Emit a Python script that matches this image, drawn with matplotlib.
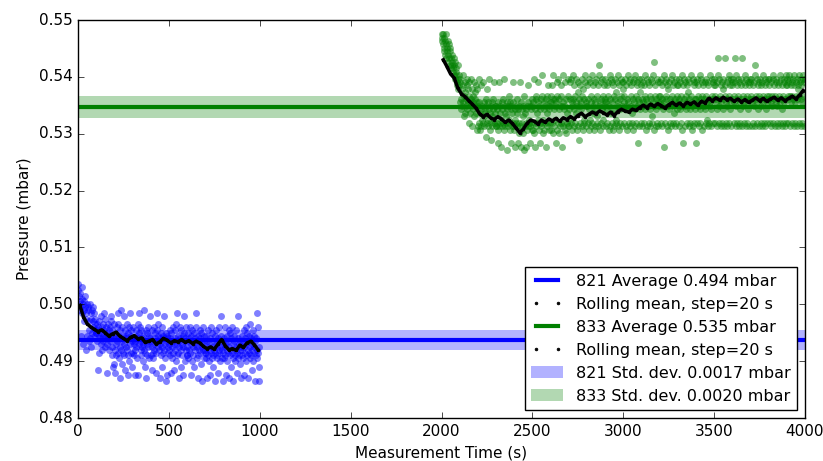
import matplotlib
matplotlib.use('Agg')
import matplotlib.pyplot as plt
import matplotlib.patches as mpatches
import numpy as np

plt.style.use('classic')
plt.rcParams['figure.facecolor'] = 'white'
plt.rcParams['savefig.facecolor'] = 'white'
plt.rcParams['font.size'] = 11

# --- sensor 821 (0 - 1000 s) ---
# readings coded as base-36 levels: value = base + k*step
b_base, b_step = 0.4860, 0.0005
b_codes = ("xzsvqtwhrpuyseqmtrvpncshqrmfjgspdnqikrmhpjlni"
           "ilfj5khmbgjeoicklfhpjgdnhkei4lgjcfkhmoadjg67l"
           "hc4gaekfpbl9hd2jcq7fkhboea5jgdhlc3ia8kpebjh6f"
           "gbkea3fcjd9hgl3eipkfcajdg8hecq6fbj2aeidkh9fog"
           "fajd5b9kecgi4fbjphdlcf2geia6kdbhgoc9eif13hdgb"
           "ecjgai4d9kbfe5jcgl8aepbhdf2kgc6jaeh3diog8fcka"
           "dai9gcfkb3eh8jdaf6icgpek9dh2afcjbg7ide1kc9fhb"
           "c9hb2fadj8ecg3kbd9ia6fch1bej9dag4ckbf8hdo9ce1"
           "bg9dka3ech8fbj2diac6gkb9e1hfa8cjd4bgo9ea7fc2d"
           "ahc9fj3dbgk8eai2cfhb9dlag5ecj8bhd1fgap9ckb16d")
b_start, b_end = 0, 1000
b_roll = [0.4998, 0.4978, 0.4966, 0.4960, 0.4956, 0.4952, 0.4955, 0.4950, 0.4944, 0.4948,
          0.4951, 0.4944, 0.4940, 0.4936, 0.4942, 0.4945, 0.4939, 0.4941, 0.4933, 0.4935,
          0.4938, 0.4930, 0.4934, 0.4940, 0.4937, 0.4932, 0.4936, 0.4934, 0.4938, 0.4933,
          0.4936, 0.4931, 0.4935, 0.4932, 0.4926, 0.4922, 0.4925, 0.4921, 0.4930, 0.4938,
          0.4927, 0.4920, 0.4922, 0.4919, 0.4928, 0.4924, 0.4932, 0.4935, 0.4929, 0.4920]
b_avg, b_std = 0.4937, 0.0017

# --- sensor 833 (2000 - 4000 s) ---
g_base, g_step = 0.5265, 0.0006
g_codes = ("zyxwzvyuxtwzsvuxrtwsqvupsrtqopsnqrmpnoklqmjnk"
           "lfmgdjeknfbhlcigemdkfj9hlfcegm8jdfhlbeigckf7j"
           "e8m9fc7kd8ae9lbf8dc5ge9ja8fdm7c9e4bf8gdl9ace8"
           "8e9d3f7l8ce9a2fd8g9m7ec8b9f1d8eh9a7fd3e8cl9f8"
           "7da2e9g8c3d6e9l82f7d9b6e1h8c9d2e7k8f9a8e3d9g7"
           "e7f9m6d2h8g9cafl7e9d3g8h9na6f7d9e2g8hc9ke7d9f"
           "f7h9kn6gd8eag3fl7hm9d6ge8k9h2e8fn9dl7e6gc9m8h"
           "d8lgam9fe7ng8kdh9cmf7ei8lg4ek9fdm8hj7ga9nle8f"
           "ke9gm7dla8fhn9eck7gl8fmd9bhk8eqn7fgl9dma8hekf"
           "gm8fk9dlh7en8gmc9flk7hd8mgai9eln8fk7gd9mhe8lj"
           "lf9hmd8ekg7nfl9dm8hekc9gl7fmn8dh9ekl3gf8mdi9k"
           "mg8elfk9hdn7gmf8le9kdh8mgb9lfnr7ehk8gdm9fl8he"
           "hlf9mgk8ed2nf9lhgm8kej7dl9gf8mhnk9ecl8gfm9dhk"
           "kfm8gdl9hen7fk3gml8edh9kfmi8lg9dnh7fem8kl9gd3"
           "glm9fhk8edn9gml7hfk8egdl9mhfa8klg9enf8dmh9lgk"
           "mhk9gfl8dsn9emhg8kfl9dmj8ghsk9fle8mgh9nkd8fml"
           "kgm9hfls8enk9gmh8lfd9kmsg8hel9fnk8gmh9dlfk8mg"
           "lmh8gfk9elnq8hgm9fkd8lhmg9ekl8fnh9gmk8dlf9hmg"
           "hmk9glf8ehnm9kgh8flm9ekg8hln9fmg8kdh9mlf8gkn9"
           "mkh9lgn8hmfk9lhgm8nkf9hlmg8kjn9hml8gkf9mnhl8m")
g_start, g_end = 2000, 4000
g_roll = [0.5430, 0.5418, 0.5405, 0.5398, 0.5380, 0.5370, 0.5365, 0.5358, 0.5352, 0.5345,
          0.5335, 0.5330, 0.5334, 0.5328, 0.5325, 0.5330, 0.5326, 0.5320, 0.5324, 0.5318,
          0.5310, 0.5302, 0.5308, 0.5318, 0.5324, 0.5322, 0.5317, 0.5324, 0.5320, 0.5326,
          0.5323, 0.5327, 0.5322, 0.5328, 0.5325, 0.5330, 0.5326, 0.5332, 0.5336, 0.5330,
          0.5334, 0.5338, 0.5335, 0.5340, 0.5337, 0.5333, 0.5338, 0.5332, 0.5339, 0.5343,
          0.5340, 0.5338, 0.5343, 0.5341, 0.5346, 0.5350, 0.5346, 0.5352, 0.5348, 0.5353,
          0.5349, 0.5345, 0.5351, 0.5355, 0.5350, 0.5354, 0.5349, 0.5355, 0.5352, 0.5356,
          0.5350, 0.5357, 0.5354, 0.5362, 0.5358, 0.5363, 0.5359, 0.5364, 0.5360, 0.5362,
          0.5357, 0.5361, 0.5356, 0.5360, 0.5355, 0.5359, 0.5363, 0.5358, 0.5362, 0.5357,
          0.5361, 0.5364, 0.5359, 0.5363, 0.5358, 0.5362, 0.5366, 0.5361, 0.5368, 0.5376]
g_avg, g_std = 0.5347, 0.0020

roll_step = 20


def decode(codes, base, step, t0, t1):
    vals = np.array([base + int(c, 36) * step for c in codes])
    t = np.linspace(t0, t1, len(vals), endpoint=False)
    return t, vals


bt, bv = decode(b_codes, b_base, b_step, b_start, b_end)
gt, gv = decode(g_codes, g_base, g_step, g_start, g_end)
brt = b_start + roll_step / 2 + roll_step * np.arange(len(b_roll))
grt = g_start + roll_step / 2 + roll_step * np.arange(len(g_roll))

fig = plt.figure(figsize=(8.23, 4.61), dpi=100)
ax = fig.add_subplot(111)
fig.subplots_adjust(left=78/823, right=805/823, bottom=43/461, top=441/461)

ax.axhspan(b_avg - b_std, b_avg + b_std, color='b', alpha=0.3, lw=0)
ax.axhspan(g_avg - g_std, g_avg + g_std, color='g', alpha=0.3, lw=0)
ax.plot(bt, bv, 'o', color='b', alpha=0.5, ms=5, mec='none')
ax.plot(gt, gv, 'o', color='g', alpha=0.5, ms=5, mec='none')
hb, = ax.plot([0, 4000], [b_avg, b_avg], color='b', lw=3)
hg, = ax.plot([0, 4000], [g_avg, g_avg], color='g', lw=3)
ax.plot(brt, b_roll, 'k-', lw=2.5)
ax.plot(grt, g_roll, 'k-', lw=2.5)
hbr, = ax.plot(brt, b_roll, 'k.', ms=4)
hgr, = ax.plot(grt, g_roll, 'k.', ms=4)

pb = mpatches.Patch(color='b', alpha=0.3, lw=0)
pg = mpatches.Patch(color='g', alpha=0.3, lw=0)

ax.set_xlim(0, 4000)
ax.set_ylim(0.48, 0.55)
ax.set_xlabel('Measurement Time (s)')
ax.set_ylabel('Pressure (mbar)')

ax.legend([hb, hbr, hg, hgr, pb, pg],
          ['821 Average %.3f mbar' % b_avg,
           'Rolling mean, step=%d s' % roll_step,
           '833 Average %.3f mbar' % g_avg,
           'Rolling mean, step=%d s' % roll_step,
           '821 Std. dev. %.4f mbar' % b_std,
           '833 Std. dev. %.4f mbar' % g_std],
          loc='lower right', fontsize=11.5, numpoints=2)

fig.savefig('out.png', dpi=100)
